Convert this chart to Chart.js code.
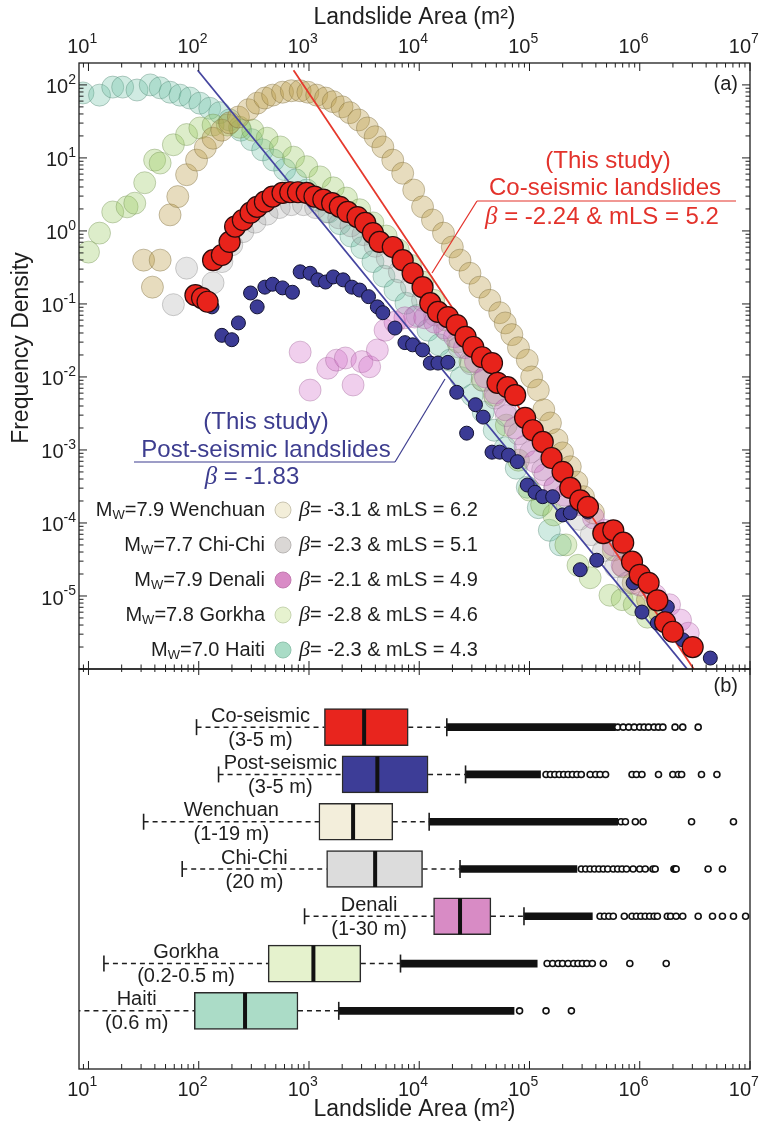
<!DOCTYPE html>
<html lang="en">
<head>
<meta charset="utf-8">
<title>Landslide area frequency density</title>
<script src="https://cdn.jsdelivr.net/npm/chart.js@4.4.1/dist/chart.umd.min.js"></script>
<style>
  html, body { margin: 0; background: #fff; }
  #figure { position: relative; width: 764px; height: 1124px; }
  #figure canvas { position: absolute; left: 0; top: 0; }
</style>
</head>
<body>
<div id="figure">
  <canvas id="panelA" width="764" height="1124"></canvas>
  <canvas id="panelB" width="764" height="1124"></canvas>
</div>
<script>
// values are log10 of what the axes show (area in m2, frequency density)

// --- panel (a) ---
const coX = [1.97,2.03,2.08,2.13,2.21,2.28,2.33,2.40,2.47,2.53,2.60,2.67,2.76,2.83,2.90,2.98,3.05,3.13,3.21,3.28,3.35,3.44,3.51,3.58,3.64,3.76,3.85,3.94,4.03,4.10,4.17,4.26,4.34,4.42,4.49,4.57,4.66,4.71,4.80,4.87,4.96,5.03,5.12,5.20,5.30,5.37,5.46,5.53,5.67,5.76,5.85,5.93,6.00,6.08,6.16,6.23,6.30,6.48];
const coY = [-0.88,-0.92,-0.97,-0.40,-0.33,-0.15,0.06,0.15,0.25,0.33,0.40,0.47,0.52,0.53,0.53,0.52,0.47,0.43,0.38,0.33,0.26,0.19,0.11,-0.03,-0.15,-0.22,-0.40,-0.58,-0.77,-0.99,-1.11,-1.18,-1.29,-1.45,-1.59,-1.73,-1.81,-2.08,-2.14,-2.25,-2.56,-2.73,-2.89,-3.11,-3.30,-3.52,-3.69,-3.78,-4.14,-4.10,-4.27,-4.53,-4.71,-4.82,-5.06,-5.36,-5.49,-5.70];

const postX = [2.12,2.21,2.30,2.36,2.47,2.53,2.60,2.67,2.76,2.85,2.92,3.01,3.08,3.15,3.22,3.31,3.39,3.46,3.54,3.62,3.67,3.78,3.87,3.94,4.03,4.10,4.17,4.26,4.34,4.43,4.51,4.58,4.66,4.73,4.81,4.89,4.98,5.05,5.12,5.21,5.30,5.37,5.46,5.53,5.61,5.94,6.02,6.16,6.25,6.30,6.39,6.48,6.64];
const postY = [-1.04,-1.43,-1.49,-1.26,-0.85,-1.04,-0.77,-0.73,-0.78,-0.84,-0.56,-0.58,-0.67,-0.70,-0.63,-0.67,-0.77,-0.81,-0.90,-1.04,-1.12,-1.33,-1.53,-1.56,-1.63,-1.81,-1.81,-1.80,-2.21,-2.77,-2.38,-2.55,-3.03,-3.03,-3.07,-3.16,-3.48,-3.58,-3.64,-3.64,-3.89,-3.86,-4.64,-3.85,-4.51,-4.82,-5.22,-5.37,-5.15,-5.53,-5.60,-5.70,-5.85];

const wenX = [1.50,1.58,1.65,1.74,1.81,1.89,1.98,2.06,2.13,2.21,2.28,2.36,2.45,2.53,2.60,2.67,2.76,2.84,2.92,2.99,3.07,3.15,3.22,3.30,3.37,3.45,3.53,3.60,3.67,3.76,3.85,3.95,4.03,4.12,4.22,4.30,4.37,4.46,4.55,4.64,4.73,4.78,4.84,4.90,4.98,5.02,5.08,5.13,5.19,5.25,5.30,5.37,5.43,5.49,5.58,5.67,5.76,5.85,5.94,6.07,6.18];
const wenY = [-0.40,-0.77,-0.40,0.22,0.47,0.77,0.97,1.14,1.27,1.38,1.48,1.56,1.66,1.75,1.82,1.86,1.90,1.92,1.92,1.90,1.86,1.82,1.77,1.70,1.62,1.52,1.41,1.29,1.15,0.97,0.79,0.56,0.33,0.15,-0.03,-0.22,-0.40,-0.58,-0.77,-0.95,-1.12,-1.26,-1.42,-1.60,-1.77,-2.00,-2.18,-2.45,-2.63,-2.86,-3.04,-3.23,-3.44,-3.64,-3.86,-4.14,-4.37,-4.60,-4.82,-5.05,-5.23];

const chiX = [1.77,1.89,2.13,2.21,2.30,2.40,2.51,2.62,2.73,2.84,2.95,3.06,3.16,3.27,3.38,3.49,3.60,3.71,3.82,3.93,4.03,4.14,4.25,4.36,4.47,4.58,4.69,4.79,4.90,5.01,5.12,5.23,5.34,5.45,5.56,5.67,5.78,5.89];
const chiY = [-1.01,-0.51,-0.71,-0.42,-0.19,-0.01,0.12,0.23,0.32,0.36,0.36,0.32,0.26,0.18,0.07,-0.05,-0.21,-0.37,-0.56,-0.75,-0.95,-1.15,-1.36,-1.59,-1.82,-2.05,-2.29,-2.53,-2.78,-3.03,-3.27,-3.51,-3.73,-3.95,-4.16,-4.38,-4.60,-4.82];

const denX = [2.92,3.01,3.17,3.25,3.33,3.40,3.48,3.55,3.62,3.69,3.78,3.87,3.96,4.05,4.14,4.23,4.32,4.41,4.51,4.60,4.69,4.78,4.87,4.96,5.05,5.14,5.23,5.32,5.46,5.58,5.68,5.76,5.84,6.00,6.14,6.27,6.37,6.44];
const denY = [-1.66,-2.18,-1.88,-1.77,-1.74,-2.11,-1.79,-1.86,-1.63,-1.36,-1.25,-1.19,-1.18,-1.19,-1.25,-1.33,-1.45,-1.60,-1.79,-2.00,-2.22,-2.45,-2.70,-2.95,-3.16,-3.34,-3.51,-3.62,-3.75,-3.93,-4.10,-4.30,-4.58,-4.85,-4.99,-5.12,-5.33,-5.51];

const gorX = [1.00,1.10,1.22,1.35,1.42,1.51,1.60,1.65,1.77,1.89,2.01,2.13,2.26,2.37,2.49,2.62,2.74,2.86,2.98,3.10,3.22,3.34,3.46,3.58,3.70,3.81,3.92,4.03,4.13,4.24,4.35,4.46,4.57,4.68,4.79,4.90,5.00,5.11,5.22,5.33,5.44,5.55,5.73,5.84,5.95,6.07];
const gorY = [-0.29,-0.03,0.26,0.33,0.38,0.66,0.97,0.93,1.18,1.32,1.41,1.45,1.45,1.42,1.38,1.27,1.15,1.01,0.88,0.74,0.59,0.45,0.29,0.11,-0.07,-0.26,-0.47,-0.70,-0.95,-1.22,-1.52,-1.79,-2.04,-2.25,-2.66,-3.14,-3.55,-3.75,-3.89,-4.30,-4.58,-4.75,-4.99,-5.05,-5.12,-5.29];

const haiX = [0.95,1.10,1.22,1.31,1.44,1.56,1.65,1.74,1.83,1.92,2.01,2.10,2.19,2.28,2.38,2.48,2.58,2.68,2.78,2.88,2.98,3.08,3.18,3.28,3.38,3.48,3.58,3.68,3.78,3.88,3.98,4.08,4.18,4.28,4.38,4.48,4.58,4.68,4.78,4.88,4.98,5.08,5.18,5.28];
const haiY = [1.89,1.86,1.97,1.97,1.93,2.00,1.96,1.90,1.86,1.82,1.75,1.68,1.62,1.52,1.38,1.25,1.11,0.97,0.84,0.70,0.56,0.42,0.26,0.10,-0.07,-0.23,-0.42,-0.62,-0.81,-0.99,-1.16,-1.36,-1.56,-1.77,-2.01,-2.25,-2.48,-2.73,-2.97,-3.25,-3.51,-3.79,-4.10,-4.30];

// power-law fits (end points)
const fitCoX = [2.86, 6.49];
const fitCoY = [2.20, -6.00];
const fitPostX = [1.99, 6.43];
const fitPostY = [2.20, -6.00];

// legend of the other inventories
const legendNames = ['Wenchuan', 'Chi-Chi', 'Denali', 'Gorkha', 'Haiti'];
const legendMw = ['7.9', '7.7', '7.9', '7.8', '7.0'];
const legendBeta = ['-3.1', '-2.3', '-2.1', '-2.8', '-2.3'];
const legendMls = ['6.2', '5.1', '4.9', '4.6', '4.3'];

// --- panel (b): box plots ---
const boxNames = ['Co-seismic', 'Post-seismic', 'Wenchuan', 'Chi-Chi', 'Denali', 'Gorkha', 'Haiti'];
const boxRes = ['(3-5 m)', '(3-5 m)', '(1-19 m)', '(20 m)', '(1-30 m)', '(0.2-0.5 m)', '(0.6 m)'];
const whiskLo = [1.98, 2.18, 1.50, 1.85, 2.96, 1.14, 0.80];
const q1 = [3.14, 3.30, 3.09, 3.16, 4.13, 2.63, 1.96];
const median = [3.50, 3.62, 3.40, 3.60, 4.37, 3.04, 2.42];
const q3 = [3.90, 4.08, 3.76, 4.03, 4.65, 3.47, 2.90];
const whiskHi = [4.25, 4.42, 4.09, 4.37, 4.95, 3.83, 3.27];
const denseTo = [5.78, 5.10, 5.80, 5.43, 5.57, 5.07, 4.86];
const outCo = [5.80, 5.85, 5.90, 5.95, 6.00, 6.04, 6.08, 6.13, 6.17, 6.21, 6.32, 6.39, 6.53];
const outPost = [5.15, 5.19, 5.23, 5.27, 5.31, 5.35, 5.39, 5.43, 5.47, 5.55, 5.60, 5.64, 5.69, 5.93, 5.97, 6.02, 6.17, 6.30, 6.35, 6.38, 6.56, 6.70];
const outWen = [5.83, 5.87, 5.96, 6.03, 6.47, 6.85];
const outChi = [5.47, 5.51, 5.55, 5.59, 5.63, 5.67, 5.71, 5.76, 5.80, 5.84, 5.88, 5.94, 6.00, 6.05, 6.12, 6.14, 6.31, 6.32, 6.33, 6.62, 6.75];
const outDen = [5.64, 5.68, 5.72, 5.76, 5.86, 5.93, 5.97, 6.01, 6.05, 6.09, 6.13, 6.16, 6.25, 6.28, 6.33, 6.39, 6.53, 6.66, 6.75, 6.85, 6.96];
const outGor = [5.16, 5.21, 5.26, 5.30, 5.35, 5.40, 5.44, 5.48, 5.52, 5.57, 5.67, 5.91, 6.24];
const outHai = [4.91, 5.15, 5.38];

// axis ranges (log10)
const xLogMin = 0.914, xLogMax = 7;
const yLogMin = -6, yLogMax = 2.3;

const F = '"Liberation Sans", Arial, sans-serif';
const BETA = '"Liberation Serif", "DejaVu Serif", serif';
const INK = '#1e1e1e';
const RED_TXT = '#e3322b';
const BLUE_TXT = '#3d3d8f';

const legendFill = ['#f3eed9', '#dad7d5', '#d98bc6', '#e6f2cf', '#a9dcc6'];
const legendEdge = ['#c9c4b0', '#b8b5b3', '#c27ab0', '#c6d4b0', '#8fc3ad'];
const boxFill = ['#e8251e', '#3d3d97', '#f3eedb', '#dcdcdc', '#d88bc5', '#e5f2cd', '#abdcc7'];

const pow10 = v => Math.pow(10, v);
const toPoints = (xs, ys) => xs.map((v, i) => ({ x: pow10(v), y: pow10(ys[i]) }));

function line(ctx, x1, y1, x2, y2) {
  ctx.beginPath();
  ctx.moveTo(x1, y1);
  ctx.lineTo(x2, y2);
  ctx.stroke();
}

function eachLogTick(scale, lo, hi, fn) {
  for (let d = Math.floor(lo); d <= Math.ceil(hi); d++) {
    for (let m = 1; m <= 9; m++) {
      const lv = Math.log10(m * Math.pow(10, d));
      if (lv < lo - 1e-6 || lv > hi + 1e-6) continue;
      fn(scale.getPixelForValue(m * Math.pow(10, d)), m === 1);
    }
  }
}

// "10" with a raised exponent
function powLabel(ctx, exp, x, y, mode) {
  ctx.font = `20px ${F}`;
  const w10 = ctx.measureText('10').width;
  ctx.font = `14px ${F}`;
  const we = ctx.measureText(exp).width;
  const x0 = mode === 'x' ? x - w10 + 1 : x - w10 - we;
  ctx.textAlign = 'left';
  ctx.textBaseline = 'middle';
  ctx.font = `20px ${F}`;
  ctx.fillText('10', x0, y + 3);
  ctx.font = `14px ${F}`;
  ctx.fillText(exp, x0 + w10, y - 5);
}

// text made of pieces with their own fonts
function rich(ctx, parts, x, y, align) {
  let total = 0;
  const widths = parts.map(p => {
    ctx.font = p.font;
    const w = ctx.measureText(p.text).width;
    total += w;
    return w;
  });
  let cx = align === 'center' ? x - total / 2 : align === 'right' ? x - total : x;
  ctx.textAlign = 'left';
  ctx.textBaseline = 'middle';
  parts.forEach((p, i) => {
    ctx.font = p.font;
    ctx.fillText(p.text, cx, y + (p.dy || 0));
    cx += widths[i];
  });
}

const panelADecor = {
  id: 'panelADecor',
  afterDraw(chart) {
    const { ctx, chartArea: a } = chart;
    const x = chart.scales.x, y = chart.scales.y;
    ctx.save();
    ctx.strokeStyle = INK;
    ctx.fillStyle = INK;
    ctx.lineWidth = 1;
    eachLogTick(x, xLogMin, xLogMax, (p, major) => {
      line(ctx, p, a.top, p, a.top + (major ? 8 : 4.5));
      line(ctx, p, a.bottom - (major ? 8 : 4.5), p, a.bottom + (major ? 6 : 3));
    });
    eachLogTick(y, yLogMin, yLogMax, (p, major) => {
      const len = major ? 8 : 4.5;
      line(ctx, a.left, p, a.left + len, p);
      line(ctx, a.right, p, a.right - len, p);
    });
    ctx.lineWidth = 1.3;
    ctx.strokeRect(a.left, a.top, a.right - a.left, a.bottom - a.top);

    for (let d = 1; d <= 7; d++) powLabel(ctx, String(d), x.getPixelForValue(pow10(d)), 44, 'x');
    for (let d = -5; d <= 2; d++) powLabel(ctx, String(d), a.left - 3, y.getPixelForValue(pow10(d)), 'y');

    ctx.font = `23px ${F}`;
    ctx.textAlign = 'center';
    ctx.textBaseline = 'middle';
    ctx.fillText('Landslide Area (m²)', (a.left + a.right) / 2, 18);
    ctx.save();
    ctx.translate(22, 348);
    ctx.rotate(-Math.PI / 2);
    ctx.fillText('Frequency Density', 0, 0);
    ctx.restore();

    ctx.font = `20px ${F}`;
    ctx.textAlign = 'right';
    ctx.fillText('(a)', a.right - 12, 84);

    // co-seismic note
    ctx.fillStyle = RED_TXT;
    ctx.strokeStyle = RED_TXT;
    ctx.lineWidth = 1.2;
    ctx.font = `24px ${F}`;
    ctx.textAlign = 'center';
    ctx.fillText('(This study)', 608, 161);
    ctx.fillText('Co-seismic landslides', 605, 188);
    rich(ctx, [{ text: 'β', font: `italic 25px ${BETA}` }, { text: ' = -2.24 & mLS = 5.2', font: `24px ${F}` }], 602, 217, 'center');
    line(ctx, 477, 201, 736, 201);
    line(ctx, 477, 201, 432, 273);

    // post-seismic note
    ctx.fillStyle = BLUE_TXT;
    ctx.strokeStyle = BLUE_TXT;
    ctx.font = `24px ${F}`;
    ctx.textAlign = 'center';
    ctx.fillText('(This study)', 266, 422);
    ctx.fillText('Post-seismic landslides', 266, 450);
    rich(ctx, [{ text: 'β', font: `italic 25px ${BETA}` }, { text: ' = -1.83', font: `24px ${F}` }], 252, 477, 'center');
    line(ctx, 134, 462, 395, 462);
    line(ctx, 395, 462, 445, 379);

    // legend
    legendNames.forEach((name, i) => {
      const ly = 510 + i * 35;
      ctx.fillStyle = INK;
      rich(ctx, [
        { text: 'M', font: `20px ${F}` },
        { text: 'W', font: `13px ${F}`, dy: 5 },
        { text: `=${legendMw[i]} ${name}`, font: `20px ${F}` }
      ], 265, ly, 'right');
      ctx.beginPath();
      ctx.arc(283, ly, 8, 0, Math.PI * 2);
      ctx.fillStyle = legendFill[i];
      ctx.fill();
      ctx.strokeStyle = legendEdge[i];
      ctx.lineWidth = 1;
      ctx.stroke();
      ctx.fillStyle = INK;
      rich(ctx, [
        { text: 'β', font: `italic 22px ${BETA}` },
        { text: `= ${legendBeta[i]} & mLS = ${legendMls[i]}`, font: `20px ${F}` }
      ], 299, ly, 'left');
    });
    ctx.restore();
  }
};

function faded(label, xs, ys, fill, edge, order) {
  return {
    label, data: toPoints(xs, ys), order,
    backgroundColor: fill, borderColor: edge, borderWidth: 1,
    pointRadius: 11, pointHoverRadius: 11
  };
}

new Chart(document.getElementById('panelA'), {
  type: 'scatter',
  data: {
    datasets: [
      { label: 'Co-seismic', data: toPoints(coX, coY), order: 0,
        backgroundColor: '#e8231b', borderColor: '#2a0c0c', borderWidth: 1.2, pointRadius: 10.5 },
      { label: 'Post-seismic', data: toPoints(postX, postY), order: 1,
        backgroundColor: '#3b3b95', borderColor: '#121232', borderWidth: 1, pointRadius: 7 },
      { label: 'Co-seismic fit', data: toPoints(fitCoX, fitCoY), order: 2, showLine: true,
        borderColor: '#e6392d', borderWidth: 1.8, pointRadius: 0, tension: 0 },
      { label: 'Post-seismic fit', data: toPoints(fitPostX, fitPostY), order: 2, showLine: true,
        borderColor: '#45459f', borderWidth: 1.8, pointRadius: 0, tension: 0 },
      faded('Denali', denX, denY, 'rgba(210,110,200,0.33)', 'rgba(150,90,140,0.35)', 3),
      faded('Chi-Chi', chiX, chiY, 'rgba(165,165,165,0.28)', 'rgba(120,120,120,0.35)', 4),
      faded('Wenchuan', wenX, wenY, 'rgba(185,155,70,0.35)', 'rgba(120,105,60,0.4)', 5),
      faded('Gorkha', gorX, gorY, 'rgba(150,200,90,0.32)', 'rgba(110,140,80,0.38)', 6),
      faded('Haiti', haiX, haiY, 'rgba(100,190,160,0.3)', 'rgba(80,130,110,0.38)', 7)
    ]
  },
  options: {
    responsive: false,
    animation: false,
    events: [],
    layout: { padding: { left: 79, right: 14, top: 63, bottom: 455 } },
    plugins: { legend: { display: false }, tooltip: { enabled: false } },
    scales: {
      x: { type: 'logarithmic', min: pow10(xLogMin), max: pow10(xLogMax), display: false },
      y: { type: 'logarithmic', min: pow10(yLogMin), max: pow10(yLogMax), display: false }
    }
  },
  plugins: [panelADecor]
});

const panelBDecor = {
  id: 'panelBDecor',
  beforeDatasetsDraw(chart) {
    const { ctx, chartArea: a } = chart;
    const x = chart.scales.x, y = chart.scales.y;
    ctx.save();
    ctx.beginPath();
    ctx.rect(a.left, a.top, a.right - a.left, a.bottom - a.top);
    ctx.clip();
    ctx.strokeStyle = INK;
    ctx.lineWidth = 1.5;
    ctx.setLineDash([5, 4]);
    boxNames.forEach((n, i) => {
      const py = y.getPixelForValue(i);
      line(ctx, x.getPixelForValue(pow10(whiskLo[i])), py, x.getPixelForValue(pow10(q1[i])), py);
      line(ctx, x.getPixelForValue(pow10(q3[i])), py, x.getPixelForValue(pow10(whiskHi[i])), py);
    });
    ctx.restore();
  },
  afterDatasetsDraw(chart) {
    const { ctx, chartArea: a } = chart;
    const x = chart.scales.x, y = chart.scales.y;
    ctx.save();
    ctx.beginPath();
    ctx.rect(a.left, a.top, a.right - a.left, a.bottom - a.top);
    ctx.clip();
    ctx.strokeStyle = INK;
    boxNames.forEach((n, i) => {
      const py = y.getPixelForValue(i);
      ctx.lineWidth = 1.6;
      line(ctx, x.getPixelForValue(pow10(whiskLo[i])), py - 8, x.getPixelForValue(pow10(whiskLo[i])), py + 8);
      line(ctx, x.getPixelForValue(pow10(whiskHi[i])), py - 9, x.getPixelForValue(pow10(whiskHi[i])), py + 9);
      ctx.lineWidth = 4;
      ctx.strokeStyle = '#111';
      const pm = x.getPixelForValue(pow10(median[i]));
      line(ctx, pm, py - 18, pm, py + 18);
      ctx.strokeStyle = INK;
    });
    ctx.restore();

    ctx.save();
    ctx.fillStyle = INK;
    ctx.font = `20px ${F}`;
    ctx.textAlign = 'center';
    ctx.textBaseline = 'middle';
    boxNames.forEach((n, i) => {
      const py = y.getPixelForValue(i);
      const left = Math.max(a.left, x.getPixelForValue(pow10(whiskLo[i])));
      const cx = (left + x.getPixelForValue(pow10(q1[i]))) / 2;
      ctx.fillText(n, cx, py - 11);
      ctx.fillText(boxRes[i], cx, py + 13);
    });
    ctx.restore();
  },
  afterDraw(chart) {
    const { ctx, chartArea: a } = chart;
    const x = chart.scales.x;
    ctx.save();
    ctx.strokeStyle = INK;
    ctx.fillStyle = INK;
    ctx.lineWidth = 1;
    eachLogTick(x, xLogMin, xLogMax, (p, major) => {
      line(ctx, p, a.bottom, p, a.bottom - (major ? 8 : 5));
    });
    ctx.lineWidth = 1.3;
    ctx.strokeRect(a.left, a.top, a.right - a.left, a.bottom - a.top);
    for (let d = 1; d <= 7; d++) powLabel(ctx, String(d), x.getPixelForValue(pow10(d)), 1087, 'x');
    ctx.font = `23px ${F}`;
    ctx.textAlign = 'center';
    ctx.textBaseline = 'middle';
    ctx.fillText('Landslide Area (m²)', (a.left + a.right) / 2, 1110);
    ctx.font = `20px ${F}`;
    ctx.textAlign = 'right';
    ctx.fillText('(b)', a.right - 12, 686);
    ctx.restore();
  }
};

const outlierRows = [outCo, outPost, outWen, outChi, outDen, outGor, outHai];

new Chart(document.getElementById('panelB'), {
  type: 'bar',
  data: {
    datasets: [
      { type: 'scatter', label: 'Outliers', order: 0,
        data: outlierRows.flatMap((row, i) => row.map(v => ({ x: pow10(v), y: i }))),
        backgroundColor: '#fff', borderColor: '#111', borderWidth: 1.6, pointRadius: 3 },
      { type: 'bar', label: 'Interquartile range', indexAxis: 'y', order: 1, grouped: false,
        data: boxNames.map((n, i) => ({ x: [pow10(q1[i]), pow10(q3[i])], y: i })),
        backgroundColor: boxFill, borderColor: '#2a2a2a', borderWidth: 1.5, borderSkipped: false, barThickness: 37 },
      { type: 'bar', label: 'Dense outliers', indexAxis: 'y', order: 2, grouped: false,
        data: boxNames.map((n, i) => ({ x: [pow10(whiskHi[i]), pow10(denseTo[i])], y: i })),
        backgroundColor: '#111', borderWidth: 0, barThickness: 7 }
    ]
  },
  options: {
    responsive: false,
    animation: false,
    events: [],
    layout: { padding: { left: 79, right: 14, top: 669, bottom: 55 } },
    plugins: { legend: { display: false }, tooltip: { enabled: false } },
    scales: {
      x: { type: 'logarithmic', min: pow10(xLogMin), max: pow10(xLogMax), display: false },
      y: { type: 'linear', min: -0.76, max: 6.76, reverse: true, display: false }
    }
  },
  plugins: [panelBDecor]
});
</script>
</body>
</html>
